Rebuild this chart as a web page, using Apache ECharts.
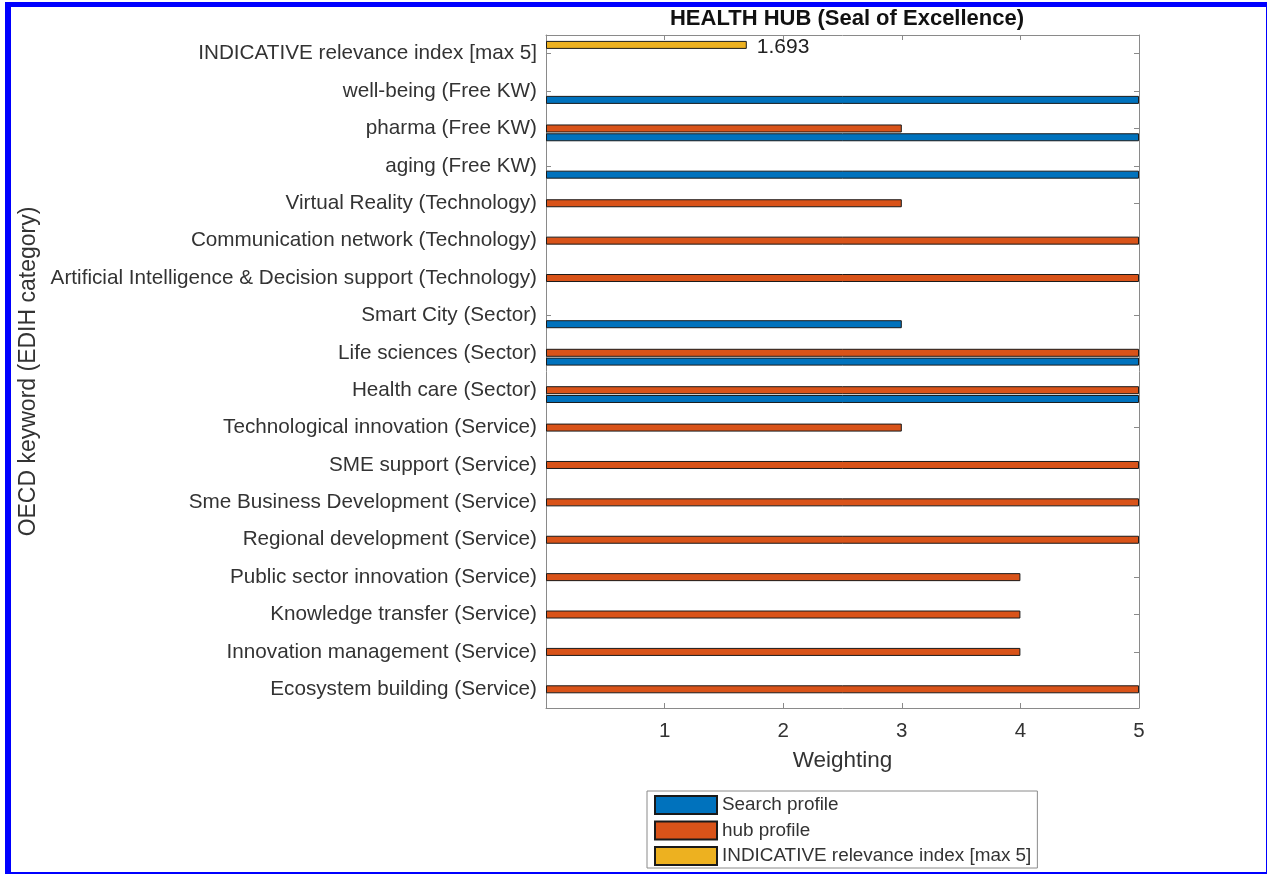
<!DOCTYPE html>
<html>
<head>
<meta charset="utf-8">
<script src="https://cdn.jsdelivr.net/npm/echarts@6/dist/echarts.min.js"></script>
<style>
  html, body { margin: 0; padding: 0; background: #fff; }
  #frame { position: absolute; left: 5px; top: 2px; width: 1255px; height: 865px;
           border-left: 6px solid #0000ff; border-top: 5px solid #0000ff;
           border-right: 2px solid #0000ff; border-bottom: 2px solid #0000ff; }
  #chart { position: absolute; left: 0; top: 0; width: 1267px; height: 876px; }
</style>
</head>
<body>
<div id="chart"></div>
<div id="frame"></div>
<script>
// Categories listed bottom to top
const categories = [
  'Ecosystem building (Service)',
  'Innovation management (Service)',
  'Knowledge transfer (Service)',
  'Public sector innovation (Service)',
  'Regional development (Service)',
  'Sme Business Development (Service)',
  'SME support (Service)',
  'Technological innovation (Service)',
  'Health care (Sector)',
  'Life sciences (Sector)',
  'Smart City (Sector)',
  'Artificial Intelligence & Decision support (Technology)',
  'Communication network (Technology)',
  'Virtual Reality (Technology)',
  'aging (Free KW)',
  'pharma (Free KW)',
  'well-being (Free KW)',
  'INDICATIVE relevance index [max 5]'
];
const searchProfile = [0, 0, 0, 0, 0, 0, 0, 0, 5, 5, 3, 0, 0, 0, 5, 5, 5, 0];
const hubProfile    = [5, 4, 4, 4, 5, 5, 5, 3, 5, 5, 0, 5, 5, 3, 0, 3, 0, 0];
const relevance     = [0, 0, 0, 0, 0, 0, 0, 0, 0, 0, 0, 0, 0, 0, 0, 0, 0, 1.693];
const xTicks = [0, 1, 2, 3, 4, 5];
const seriesNames = ['Search profile', 'hub profile', 'INDICATIVE relevance index [max 5]'];
const titleText = 'HEALTH HUB (Seal of Excellence)';
const xName = 'Weighting';
const yName = 'OECD keyword (EDIH category)';

const FONT = "'Liberation Sans', Arial, Helvetica, sans-serif";
const AX = '#8a8a8a';
const TXT = '#333';
const chart = echarts.init(document.getElementById('chart'), null, { renderer: 'canvas' });

// zero-height bars are not drawn
const nz = arr => arr.map(v => (v === 0 ? '-' : v));

const barCommon = {
  type: 'bar', barWidth: 8, barGap: '10%', barCategoryGap: '0%',
  xAxisIndex: 0, yAxisIndex: 0
};

chart.setOption({
  animation: false,
  backgroundColor: '#fff',
  title: {
    text: titleText, left: 842, top: 3, textAlign: 'center',
    textStyle: { fontFamily: FONT, fontSize: 22, fontWeight: 'bold', color: '#111' }
  },
  grid: { left: 546, right: 128, top: 35, bottom: 168, containLabel: false },
  legend: {
    orient: 'vertical', left: 647, top: 791,
    itemWidth: 62, itemHeight: 18, itemGap: 5.5, itemTextGap: 6,
    padding: [4, 6, 2, 7],
    borderColor: '#8a8a8a', borderWidth: 1,
    textStyle: { fontFamily: FONT, fontSize: 18.9, lineHeight: 18, color: TXT },
    data: seriesNames.map(n => ({ name: n, icon: 'rect' }))
  },
  xAxis: [{
    type: 'value', position: 'bottom', min: xTicks[0], max: xTicks[xTicks.length - 1], interval: 1,
    name: xName, nameLocation: 'middle', nameGap: 41,
    nameTextStyle: { fontFamily: FONT, fontSize: 22.5, color: TXT },
    axisLine: { show: true, onZero: false, lineStyle: { color: AX } },
    axisTick: { show: true, inside: true, length: 5, lineStyle: { color: AX } },
    axisLabel: { fontFamily: FONT, fontSize: 20.5, color: TXT, margin: 13,
                 formatter: v => (v === 0 ? '' : String(v)) },
    splitLine: { show: false }
  }, {
    type: 'value', position: 'top', min: xTicks[0], max: xTicks[xTicks.length - 1], interval: 1,
    axisLine: { show: true, onZero: false, lineStyle: { color: AX } },
    axisTick: { show: true, inside: true, length: 5, lineStyle: { color: AX } },
    axisLabel: { show: false }, splitLine: { show: false }
  }],
  yAxis: [{
    type: 'category', position: 'left', data: categories,
    name: yName, nameLocation: 'middle', nameGap: 506, nameRotate: 90,
    nameTextStyle: { fontFamily: FONT, fontSize: 23, color: TXT },
    axisLine: { show: true, onZero: false, lineStyle: { color: AX } },
    axisTick: { show: true, inside: true, length: 5, alignWithLabel: true, lineStyle: { color: AX } },
    axisLabel: { fontFamily: FONT, fontSize: 20.7, color: TXT, margin: 9, interval: 0 },
    splitLine: { show: false }
  }, {
    type: 'category', position: 'right', data: categories,
    axisLine: { show: true, onZero: false, lineStyle: { color: AX } },
    axisTick: { show: true, inside: true, length: 5, alignWithLabel: true, lineStyle: { color: AX } },
    axisLabel: { show: false }, splitLine: { show: false }
  }],
  // ECharts stacks horizontal groups top-down in series order; MATLAB draws series 1 lowest
  series: [
    Object.assign({}, barCommon, {
      name: seriesNames[2], data: nz(relevance),
      itemStyle: { color: '#EDB120', borderColor: '#1a1a1a', borderWidth: 1 },
      label: {
        show: true, position: 'right', distance: 10, offset: [0, 2],
        fontFamily: FONT, fontSize: 21, color: '#222',
        formatter: p => Number(p.value).toFixed(3)
      }
    }),
    Object.assign({}, barCommon, {
      name: seriesNames[1], data: nz(hubProfile),
      itemStyle: { color: '#D95319', borderColor: '#1a1a1a', borderWidth: 1 }
    }),
    Object.assign({}, barCommon, {
      name: seriesNames[0], data: nz(searchProfile),
      itemStyle: { color: '#0072BD', borderColor: '#1a1a1a', borderWidth: 1 }
    })
  ]
});
</script>
</body>
</html>
